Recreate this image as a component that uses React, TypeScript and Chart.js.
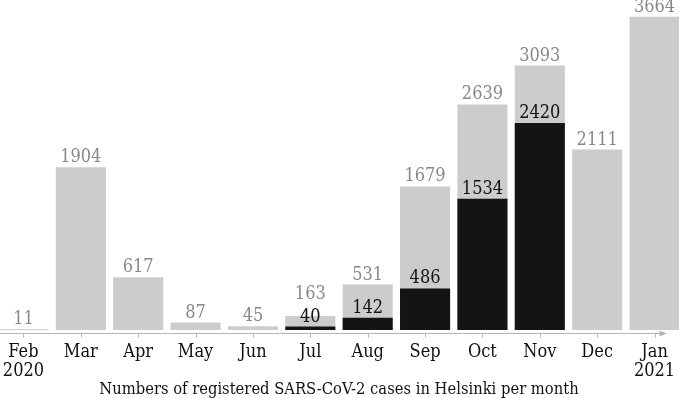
import { useEffect, useRef } from 'react';
import { Chart, registerables } from 'chart.js';
Chart.register(...registerables);

const categories: (string | string[])[] = [['Feb', '2020'], 'Mar', 'Apr', 'May', 'Jun', 'Jul', 'Aug', 'Sep', 'Oct', 'Nov', 'Dec', ['Jan', '2021']];
const totalCases = [11, 1904, 617, 87, 45, 163, 531, 1679, 2639, 3093, 2111, 3664];
const highlightedCases = [null, null, null, null, null, 40, 142, 486, 1534, 2420, null, null];
const axisTitle = 'Numbers of registered SARS-CoV-2 cases in Helsinki per month';

const FONT = "'DejaVu Serif Condensed', 'DejaVu Serif'";

const labelPlugin = {
  id: 'valueLabels',
  afterDatasetsDraw(chart: any) {
    const ctx = chart.ctx;
    ctx.save();
    ctx.font = `18px ${FONT}`;
    ctx.textAlign = 'center';
    ctx.textBaseline = 'alphabetic';
    const hiMeta = chart.getDatasetMeta(0);
    const totMeta = chart.getDatasetMeta(1);
    totalCases.forEach((v, j) => {
      const totEl: any = totMeta.data[j];
      let base = totEl.y - 5;
      const hv = highlightedCases[j];
      if (hv != null) {
        const hEl: any = hiMeta.data[j];
        const hBase = hEl.y - 5;
        ctx.fillStyle = '#111111';
        ctx.fillText(String(hv), hEl.x, hBase);
        base = Math.min(base, hBase - 23);
      }
      ctx.fillStyle = '#888888';
      ctx.fillText(String(v), totEl.x, base);
    });
    ctx.restore();
  },
};

const axisPlugin = {
  id: 'axisArrow',
  afterDraw(chart: any) {
    const ctx = chart.ctx;
    const xs = chart.scales.x;
    const y = chart.chartArea.bottom + 3.5;
    const lastX = xs.getPixelForTick(categories.length - 1);
    ctx.save();
    ctx.strokeStyle = '#b5b5b5';
    ctx.fillStyle = '#b5b5b5';
    ctx.lineWidth = 1;
    ctx.beginPath();
    ctx.moveTo(0, y);
    ctx.lineTo(lastX + 10, y);
    for (let i = 0; i < categories.length; i++) {
      const x = Math.round(xs.getPixelForTick(i)) + 0.5;
      ctx.moveTo(x, y);
      ctx.lineTo(x, y + 4);
    }
    ctx.stroke();
    ctx.beginPath();
    ctx.moveTo(lastX + 12, y);
    ctx.lineTo(lastX + 5, y - 3);
    ctx.lineTo(lastX + 5, y + 3);
    ctx.closePath();
    ctx.fill();
    ctx.restore();
  },
};

export default function App() {
  const ref = useRef<HTMLCanvasElement>(null);
  useEffect(() => {
    const chart = new Chart(ref.current!, {
      type: 'bar',
      data: {
        labels: categories,
        datasets: [
          {
            label: 'highlighted',
            data: highlightedCases,
            backgroundColor: '#141414',
            order: 0,
          },
          {
            label: 'total',
            data: totalCases,
            backgroundColor: '#cccccc',
            order: 1,
          },
        ],
      },
      options: {
        animation: false,
        responsive: true,
        maintainAspectRatio: false,
        layout: { padding: 0 },
        datasets: { bar: { grouped: false, categoryPercentage: 1, barPercentage: 0.873 } },
        plugins: { legend: { display: false }, tooltip: { enabled: false } },
        scales: {
          x: {
            grid: { display: false, drawTicks: false },
            border: { display: false },
            ticks: {
              color: '#111111',
              font: { family: FONT, size: 18, lineHeight: 1.1 },
              padding: 12,
              maxRotation: 0,
              autoSkip: false,
            },
            title: {
              display: true,
              text: axisTitle,
              color: '#111111',
              font: { family: FONT, size: 16.4 },
              padding: { top: 0, bottom: 1 },
            },
            afterFit(scale: any) {
              scale.height = 71;
            },
          },
          y: { display: false, min: 0, max: 3860 },
        },
      },
      plugins: [labelPlugin, axisPlugin],
    });
    return () => chart.destroy();
  }, []);
  return (
    <div style={{ position: 'fixed', left: 0, top: 0, width: 679, height: 398, overflow: 'hidden', background: '#fff' }}>
      <div style={{ position: 'absolute', left: -9, top: 0, width: 696, height: 401 }}>
        <canvas ref={ref} />
      </div>
    </div>
  );
}
